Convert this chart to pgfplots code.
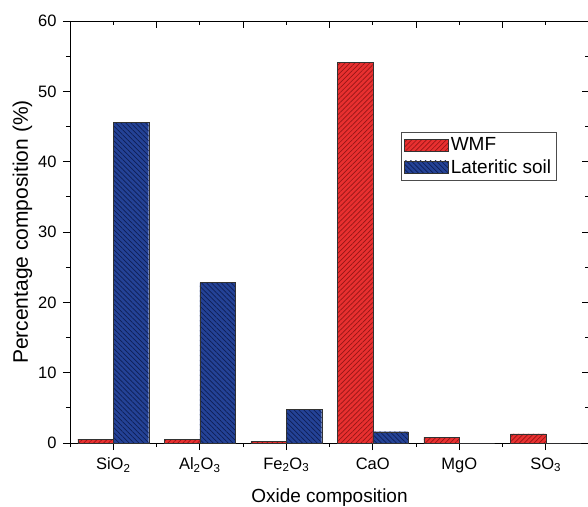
\documentclass[border=0pt]{standalone}
\usepackage{pgfplots}
\pgfplotsset{compat=1.18}
\usepackage{fontspec}
\setmainfont{Liberation Sans}
\usetikzlibrary{patterns.meta}
\definecolor{wmfred}{RGB}{232,48,48}
\definecolor{wmfhatch}{RGB}{150,22,22}
\definecolor{latblue}{RGB}{36,66,150}
\definecolor{lathatch}{RGB}{14,30,85}
\begin{document}
\begin{tikzpicture}
\useasboundingbox (-70bp,-64bp) rectangle (518bp,443bp);
\pgfplotsset{
  common/.style={
    at={(0,0)}, anchor=south west,
    scale only axis, width=519bp, height=422bp,
    xmin=-0.5, xmax=5.5, ymin=0, ymax=60,
    ytick={0,10,20,30,40,50,60},
    minor y tick num=1,
    major tick length=7bp, minor tick length=4bp,
    every tick/.style={black, line width=0.8pt},
    axis line style={line width=0.9pt},
  }
}
\begin{axis}[common,
  xtick={0,1,2,3,4,5},
  minor xtick={-0.5,0.5,1.5,2.5,3.5,4.5,5.5},
  xtick pos=left, ytick pos=left, tick align=outside,
  /pgf/number format/assume math mode=true,
  tick label style={font=\fontsize{16.5bp}{18bp}\selectfont},
  yticklabel style={xshift=-3bp},
  xticklabel style={yshift=-4bp},
  xticklabels={SiO\textsubscript{2}, Al\textsubscript{2}O\textsubscript{3}, Fe\textsubscript{2}O\textsubscript{3}, CaO, MgO, SO\textsubscript{3}},
  xlabel={Oxide composition},
  ylabel={Percentage composition (\%)},
  xlabel style={font=\fontsize{19bp}{21bp}\selectfont, yshift=-9bp},
  ylabel style={font=\fontsize{21bp}{23bp}\selectfont, yshift=-1bp},
  bar width=0.41,
  legend style={at={(rel axis cs:0.637,0.737)}, anchor=north west,
    draw=black!70, line width=0.6pt, font=\fontsize{19bp}{21bp}\selectfont,
    inner sep=3.5bp, row sep=3bp, cells={anchor=west}},
  legend image code/.code={\draw[#1] (0bp,-6bp) rectangle (44bp,6bp);},
]
\addplot[ybar, bar shift=-0.205, draw=black!80, line width=0.4pt, fill=wmfred,
  postaction={pattern={Lines[angle=45,distance=3.5bp,line width=0.7bp]}, pattern color=wmfhatch}]
  coordinates {(0,0.55) (1,0.55) (2,0.2) (3,54.1) (4,0.85) (5,1.3)};
\addlegendentry{WMF}
\addplot[ybar, bar shift=0.205, draw=black!80, line width=0.4pt, fill=latblue,
  postaction={pattern={Lines[angle=-45,distance=3.5bp,line width=0.7bp]}, pattern color=lathatch}]
  coordinates {(0,45.6) (1,22.8) (2,4.8) (3,1.6) (4,0) (5,0)};
\addlegendentry{Lateritic soil}
\end{axis}
\begin{axis}[common,
  xtick={-0.5,0.5,1.5,2.5,3.5,4.5,5.5},
  minor xtick={0,1,2,3,4,5},
  xtick pos=right, ytick pos=right, tick align=inside,
  xticklabels={}, yticklabels={}, axis line style={draw=none}]
\end{axis}
\end{tikzpicture}
\end{document}
